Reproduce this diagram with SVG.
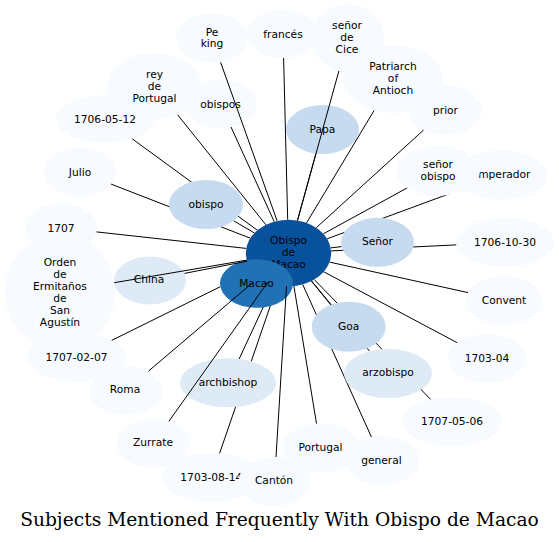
<svg xmlns="http://www.w3.org/2000/svg" width="559" height="542" viewBox="0 0 559 542">
<style>
ellipse{stroke:none}
.c0{fill:#08519c}.c1{fill:#2171b5}.c2{fill:#c6dbef}.c3{fill:#deebf7}.c4{fill:#f7fbff}
text{font-family:"DejaVu Sans",sans-serif;font-size:10.67px;text-anchor:middle;fill:#000}
#edges line{stroke:#000;stroke-width:1}
.title{font-family:"DejaVu Serif","Liberation Serif",serif;font-size:18.67px}
</style>
<rect width="559" height="542" fill="#fff"/>
<g id="nodes-under">
<g id="n-center"><ellipse class="c0" cx="288.5" cy="253" rx="42.7" ry="33.3"/><text x="288.5" y="244">Obispo</text><text x="288.5" y="256">de</text><text x="288.5" y="268">Macao</text></g>
<g id="n-macao"><ellipse class="c1" cx="256.5" cy="283.5" rx="36.5" ry="24.3"/><text x="256.5" y="286.5">Macao</text></g>
<g id="n-pe-king"><ellipse class="c4" cx="212" cy="38" rx="36" ry="25"/><text x="212" y="35.8">Pe</text><text x="212" y="47.3">king</text></g>
<g id="n-frances"><ellipse class="c4" cx="283" cy="34" rx="36" ry="24"/><text x="283" y="37.7">francés</text></g>
<g id="n-cice"><ellipse class="c4" cx="348" cy="38" rx="36.7" ry="34"/><text x="347" y="28.7">señor</text><text x="347" y="40.7">de</text><text x="347" y="52.7">Cice</text></g>
<g id="n-patriarch"><ellipse class="c4" cx="393" cy="79" rx="50" ry="34"/><text x="393" y="70.3">Patriarch</text><text x="393" y="82.3">of</text><text x="393" y="94.3">Antioch</text></g>
<g id="n-prior"><ellipse class="c4" cx="445.5" cy="110" rx="36.5" ry="25"/><text x="445.5" y="113.7">prior</text></g>
<g id="n-papa"><ellipse class="c2" cx="322.5" cy="129.5" rx="36.5" ry="24.5"/><text x="322.5" y="133.2">Papa</text></g>
<g id="n-emperador"><ellipse class="c4" cx="501" cy="175" rx="47" ry="24.5"/><text x="501" y="178.3">Emperador</text></g>
<g id="n-1706-05-12"><ellipse class="c4" cx="105" cy="119" rx="49" ry="24"/><text x="105" y="122.7">1706-05-12</text></g>
<g id="n-rey"><ellipse class="c4" cx="154.5" cy="86" rx="47" ry="33"/><text x="154.5" y="77.7">rey</text><text x="154.5" y="89.7">de</text><text x="154.5" y="101.7">Portugal</text></g>
<g id="n-obispos"><ellipse class="c4" cx="220.5" cy="104" rx="36.5" ry="24"/><text x="220.5" y="107.7">obispos</text></g>
<g id="n-julio"><ellipse class="c4" cx="80" cy="172" rx="36" ry="24.5"/><text x="80" y="175.7">Julio</text></g>
<g id="n-1707"><ellipse class="c4" cx="61" cy="228" rx="36" ry="24.5"/><text x="61" y="231.7">1707</text></g>
<g id="n-orden"><ellipse class="c4" cx="60" cy="292" rx="55" ry="58"/><text x="60" y="266">Orden</text><text x="60" y="278">de</text><text x="60" y="290">Ermitaños</text><text x="60" y="302">de</text><text x="60" y="314">San</text><text x="60" y="326">Agustín</text></g>
<g id="n-1707-02-07"><ellipse class="c4" cx="77" cy="357.5" rx="49.5" ry="24"/><text x="76.5" y="361">1707-02-07</text></g>
<g id="n-china"><ellipse class="c3" cx="150" cy="280.5" rx="36" ry="24"/><text x="149" y="283">China</text></g>
<g id="n-1706-10-30"><ellipse class="c4" cx="505" cy="242.5" rx="49" ry="24.5"/><text x="505" y="246">1706-10-30</text></g>
<g id="n-convent"><ellipse class="c4" cx="504" cy="300.5" rx="38" ry="24.5"/><text x="504" y="304">Convent</text></g>
<g id="n-1703-04"><ellipse class="c4" cx="487" cy="358.5" rx="39" ry="24.5"/><text x="487" y="362">1703-04</text></g>
<g id="n-1707-05-06"><ellipse class="c4" cx="452" cy="421.5" rx="49.5" ry="24.5"/><text x="452" y="425">1707-05-06</text></g>
<g id="n-general"><ellipse class="c4" cx="382" cy="460.5" rx="37" ry="24.5"/><text x="381.5" y="463.5">general</text></g>
<g id="n-portugal"><ellipse class="c4" cx="320.5" cy="448" rx="38" ry="24.5"/><text x="320.5" y="450.5">Portugal</text></g>
<g id="n-1703-08-14"><ellipse class="c4" cx="211.3" cy="477.5" rx="49" ry="24.5"/><text x="211.3" y="480.5">1703-08-14</text></g>
<g id="n-canton"><ellipse class="c4" cx="274.5" cy="481.5" rx="36" ry="24.5"/><text x="274" y="484">Cantón</text></g>
<g id="n-zurrate"><ellipse class="c4" cx="153.3" cy="443.3" rx="36.7" ry="24.3"/><text x="153" y="446">Zurrate</text></g>
<g id="n-archbishop"><ellipse class="c3" cx="228" cy="382.8" rx="48" ry="24.5"/><text x="228" y="385.5">archbishop</text></g>
<g id="n-roma"><ellipse class="c4" cx="125.8" cy="390.5" rx="36.5" ry="24.5"/><text x="125" y="393">Roma</text></g>
</g>
<g id="edges">
<line x1="287.7" y1="219.7" x2="283.6" y2="58"/>
<line x1="297.5" y1="220.4" x2="338.9" y2="70.9"/>
<line x1="297.5" y1="220.4" x2="315.9" y2="153.6"/>
<line x1="306.6" y1="222.8" x2="374.1" y2="110.5"/>
<line x1="316.3" y1="227.7" x2="423.6" y2="130"/>
<line x1="323.4" y1="233.8" x2="407.4" y2="187.8"/>
<line x1="327.1" y1="238.8" x2="462.6" y2="188.9"/>
<line x1="330.7" y1="247.9" x2="341.6" y2="246.6"/>
<line x1="331.1" y1="250.9" x2="456.2" y2="244.9"/>
<line x1="329.6" y1="262.1" x2="468" y2="292.6"/>
<line x1="323.8" y1="271.8" x2="457.2" y2="342.7"/>
<line x1="311.4" y1="281.1" x2="330.8" y2="304.8"/>
<line x1="311.6" y1="281" x2="369.6" y2="351.2"/>
<line x1="314.3" y1="279.6" x2="430.6" y2="399.4"/>
<line x1="302.7" y1="284.4" x2="371.4" y2="437"/>
<line x1="293.9" y1="286" x2="316.5" y2="423.6"/>
<line x1="286.5" y1="286.3" x2="276" y2="457"/>
<line x1="270.3" y1="305.9" x2="251.25" y2="361.3"/>
<line x1="235.6" y1="406.9" x2="219.6" y2="453.3"/>
<line x1="263.2" y1="307.2" x2="239.1" y2="359"/>
<line x1="267.8" y1="282.1" x2="168.9" y2="421.3"/>
<line x1="251.7" y1="283.5" x2="148.4" y2="371.2"/>
<line x1="220.1" y1="286.8" x2="111.7" y2="340.4"/>
<line x1="246.8" y1="260.1" x2="114.3" y2="282.7"/>
<line x1="247.1" y1="261.2" x2="184.5" y2="273.4"/>
<line x1="246.2" y1="248.4" x2="96.5" y2="231.9"/>
<line x1="250.3" y1="238.2" x2="111.1" y2="184.1"/>
<line x1="254.4" y1="233" x2="233.7" y2="220.8"/>
<line x1="257.3" y1="230.2" x2="132.3" y2="138.9"/>
<line x1="265.9" y1="224.8" x2="177.6" y2="114.8"/>
<line x1="274.2" y1="221.6" x2="231" y2="127"/>
<line x1="277.1" y1="220.9" x2="220.6" y2="62.3"/>
</g>
<g id="nodes-over">
<g id="n-obispo"><ellipse class="c2" cx="206" cy="204.5" rx="37" ry="24.5"/><text x="206" y="207.5">obispo</text></g>
<g id="n-senor"><ellipse class="c2" cx="377.5" cy="242.3" rx="36.5" ry="24.5"/><text x="377.5" y="245">Señor</text></g>
<g id="n-senor-obispo"><ellipse class="c4" cx="438" cy="171" rx="42" ry="24.5"/><text x="438" y="168">señor</text><text x="438" y="179.7">obispo</text></g>
<g id="n-goa"><ellipse class="c2" cx="348.7" cy="326.7" rx="37" ry="25"/><text x="348.7" y="329.5">Goa</text></g>
<g id="n-arzobispo"><ellipse class="c3" cx="388" cy="373.5" rx="44" ry="24.5"/><text x="388" y="376">arzobispo</text></g>
</g>
<text class="title" x="279.5" y="525.5">Subjects Mentioned Frequently With Obispo de Macao</text>
</svg>
